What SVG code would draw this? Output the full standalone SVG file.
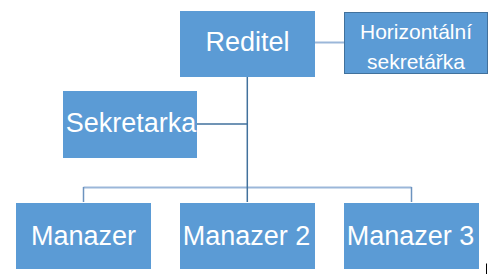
<svg xmlns="http://www.w3.org/2000/svg" width="491" height="278" viewBox="0 0 491 278">
<style>
.box{fill:#5B9BD5}
.lbl{font-family:"Liberation Sans",Arial,sans-serif;font-size:27px;fill:#FFFFFF;text-anchor:middle}
.sm{font-size:21px}
.dark{stroke:#41719C;stroke-width:1.5;fill:none}
.light{stroke:#9BB7D9;stroke-width:2;fill:none}
.mid{stroke:#6C93BF;stroke-width:1.5;fill:none}
</style>
<rect width="491" height="278" fill="#FFFFFF"/>
<g id="connectors">
<line class="light" x1="315" y1="42.5" x2="344" y2="42.5"/>
<line class="light" x1="83.5" y1="187.5" x2="411.5" y2="187.5"/>
<line class="mid" x1="83.5" y1="187" x2="83.5" y2="202"/>
<line class="mid" x1="411.5" y1="187" x2="411.5" y2="202"/>
<line class="dark" x1="197" y1="124" x2="247" y2="124"/>
<line class="dark" x1="247.3" y1="77" x2="247.3" y2="202"/>
</g>
<g id="reditel">
<rect class="box" x="180" y="11" width="135" height="66"/>
<text class="lbl" x="247.5" y="51">Reditel</text>
</g>
<g id="horizontalni">
<rect class="box" x="344.5" y="12.5" width="143" height="61" stroke="#41719C" stroke-width="1"/>
<text class="lbl sm" x="416" y="39">Horizontální</text>
<text class="lbl sm" x="416" y="69">sekretářka</text>
</g>
<g id="sekretarka">
<rect class="box" x="63" y="91" width="134" height="67"/>
<text class="lbl" x="131" y="131.5">Sekretarka</text>
</g>
<g id="manazer1">
<rect class="box" x="16" y="203" width="135" height="66"/>
<text class="lbl" x="83.5" y="245">Manazer</text>
</g>
<g id="manazer2">
<rect class="box" x="180" y="203" width="135" height="66"/>
<text class="lbl" x="246.5" y="245">Manazer 2</text>
</g>
<g id="manazer3">
<rect class="box" x="344" y="203" width="135" height="66"/>
<text class="lbl" x="410.5" y="245">Manazer 3</text>
</g>
<line x1="486.5" y1="263.5" x2="486.5" y2="274" stroke="#000000" stroke-width="1"/>
</svg>
